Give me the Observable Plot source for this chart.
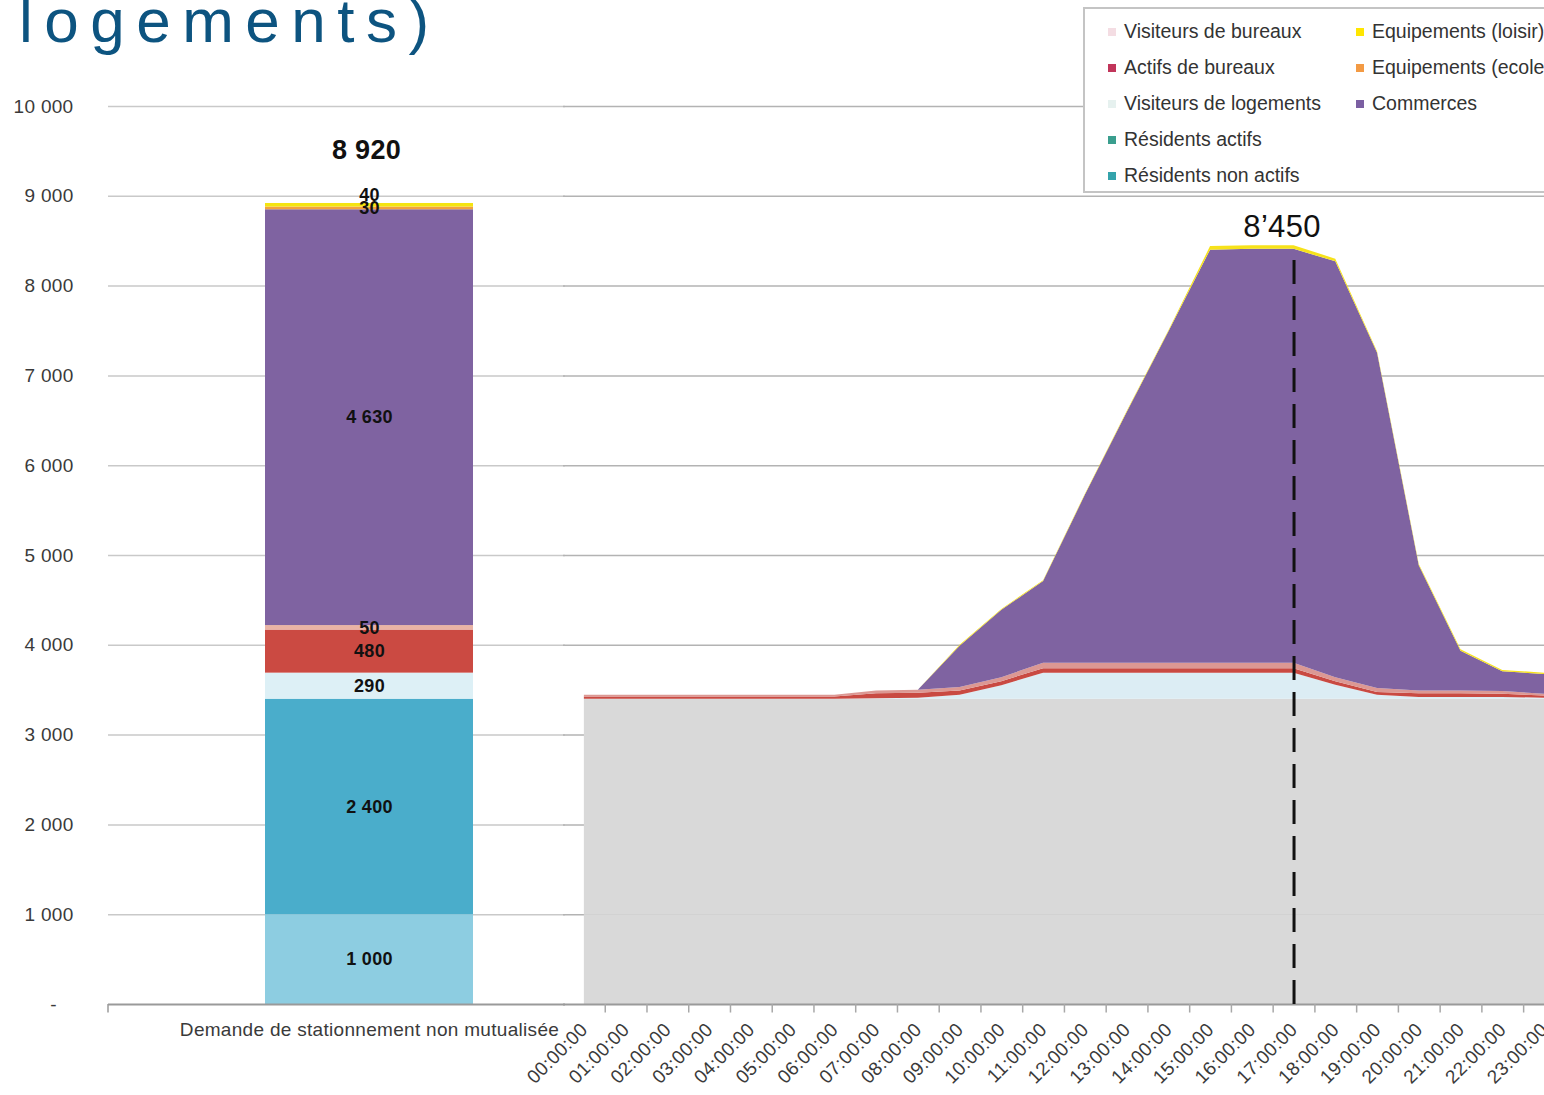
<!DOCTYPE html>
<html><head><meta charset="utf-8">
<script src="https://cdn.jsdelivr.net/npm/d3@7"></script>
<script src="https://cdn.jsdelivr.net/npm/@observablehq/plot@0.6"></script>
<style>
html,body{margin:0;padding:0;background:#fff;}
body{width:1544px;height:1095px;overflow:hidden;position:relative;font-family:"Liberation Sans",Arial,Helvetica,sans-serif;}
#title{position:absolute;left:19px;top:-10px;font-size:62px;letter-spacing:11.5px;color:#0d5480;line-height:62px;white-space:nowrap;}
#left,#right{position:absolute;left:0;top:0;}
#legend{position:absolute;left:1083px;top:7px;width:520px;height:182px;border:2px solid #c4c4c4;background:#fff;}
.li{position:absolute;font-size:19.5px;color:#333;white-space:nowrap;line-height:22px;}
.sw{display:inline-block;width:8px;height:8px;margin-right:8px;vertical-align:2px;}
</style>
</head><body>
<div id="title">logements)</div>
<div id="left"></div>
<div id="right"></div>
<div id="legend"></div>
<script>
// ---------- data ----------
const hours = ["00:00:00","01:00:00","02:00:00","03:00:00","04:00:00","05:00:00","06:00:00","07:00:00","08:00:00","09:00:00","10:00:00","11:00:00","12:00:00","13:00:00","14:00:00","15:00:00","16:00:00","17:00:00","18:00:00","19:00:00","20:00:00","21:00:00","22:00:00","23:00:00"];
const barCategory = "Demande de stationnement non mutualisée";
const barSeries = ["Résidents non actifs","Résidents actifs","Visiteurs de logements","Actifs de bureaux","Visiteurs de bureaux","Commerces","Equipements (ecole)","Equipements (loisir)"];
const barValues = [1000, 2400, 290, 480, 50, 4630, 30, 40];
const barTotal = 8920;

const residentsNonActifs = [1000,1000,1000,1000,1000,1000,1000,1000,1000,1000,1000,1000,1000,1000,1000,1000,1000,1000,1000,1000,1000,1000,1000,1000];
const residentsActifs    = [2400,2400,2400,2400,2400,2400,2400,2400,2400,2400,2400,2400,2400,2400,2400,2400,2400,2400,2400,2400,2400,2400,2400,2400];
const visiteursLogements = [0,0,0,0,0,0,0,5,10,45,150,290,290,290,290,290,290,290,155,45,20,20,20,10];
const actifsBureaux      = [25,25,25,25,25,25,25,55,55,45,45,50,50,50,50,50,50,50,40,30,40,40,35,25];
const visiteursBureaux   = [20,20,20,20,20,20,20,30,35,40,45,60,60,60,60,60,60,60,45,45,30,30,30,20];
const commerces          = [0,0,0,0,0,0,0,0,0,460,750,910,1870,2790,3690,4600,4610,4610,4630,3735,1395,445,220,220];
const equipEcole         = [0,0,0,0,0,0,0,0,0,0,0,0,0,0,0,0,0,0,0,0,0,0,0,0];
const equipLoisir        = [0,0,0,0,0,0,0,0,0,10,10,10,10,10,10,40,40,40,30,15,15,15,15,15];
const peakHour = 17;
const peakValue = 8450;
const peakLabel = "8’450";
const dashTop = 8340;

const legendItems = ["Visiteurs de bureaux","Actifs de bureaux","Visiteurs de logements","Résidents actifs","Résidents non actifs","Equipements (loisir)","Equipements (ecole)","Commerces"];
const legendColors = ["#f4dde3","#c1355a","#e6f1ef","#3a9e8e","#34a3ab","#ffe600","#f39a44","#7b5fa2"];

const yTicks = [0,1000,2000,3000,4000,5000,6000,7000,8000,9000,10000];

// ---------- styles ----------
const barColors = ["#8dcde1","#4aadcb","#ddf0f6","#cb4a42","#e9b3a5","#7f63a1","#f2a23c","#f4e410"];
const areaColors = ["#d9d9d9","#d9d9d9","#dcedf4","#c94a42","#dc9893","#7f63a1","#f2a23c","#f7e21a"];
const fmt = d => d3.format(",")(d).replace(/,/g, " ");
const H = 1095, MT = 106, MB = 91;

// ---------- left bar chart ----------
const barData = barSeries.map((s, i) => ({cat: barCategory, series: s, value: barValues[i]}));
let acc = 0;
const barLabels = barData.map(d => { const mid = acc + d.value / 2; acc += d.value; return {cat: d.cat, mid, text: fmt(d.value), series: d.series}; });
const mainLabels = barLabels.slice(0, barLabels.length - 1);
const topLabel = barLabels.slice(barLabels.length - 1);

const left = Plot.plot({
  width: 565, height: H, marginLeft: 108, marginRight: 0, marginTop: MT, marginBottom: MB,
  style: {fontFamily: '"Liberation Sans", Arial, sans-serif', color: "#3a3a3a", background: "transparent", letterSpacing: "0.3px"},
  x: {domain: [barCategory], range: [108, 631], padding: 0.429, label: null},
  y: {domain: [0, 10000], label: null},
  color: {domain: barSeries, range: barColors},
  marks: [
    Plot.ruleY(yTicks.slice(1), {stroke: "#c9c9c9", strokeWidth: 1.5}),
    Plot.barY(barData, {x: "cat", y: "value", fill: "series"}),
    Plot.ruleY([0], {stroke: "#9a9a9a", strokeWidth: 2}),
    Plot.ruleX([barCategory], {y1: 0, y2: -95, dx: 108 - 369.5, stroke: "#9a9a9a", strokeWidth: 1.5}),
    Plot.axisY({ticks: yTicks, tickFormat: d => d === 0 ? "-\u00a0\u00a0\u00a0" : fmt(d), tickSize: 0, tickPadding: 35, fontSize: 19, label: null}),
    Plot.axisX({tickSize: 0, tickPadding: 18, fontSize: 19, label: null}),
    Plot.text(mainLabels, {x: "cat", y: "mid", text: "text", fontSize: 18, fontWeight: "bold", fill: "#111"}),
    Plot.text(topLabel, {x: "cat", y: "mid", text: "text", fontSize: 18, fontWeight: "bold", fill: "#111", dy: -10}),
    Plot.text([{cat: barCategory, v: barTotal}], {x: "cat", y: "v", text: d => fmt(d.v), fontSize: 27, fontWeight: "bold", fill: "#111", dy: -53, dx: -3})
  ]
});
document.getElementById("left").append(left);

// ---------- right area chart ----------
const areaSeries = barSeries;
const areaArrays = [residentsNonActifs, residentsActifs, visiteursLogements, actifsBureaux, visiteursBureaux, commerces, equipEcole, equipLoisir];
const areaData = [];
areaSeries.forEach((s, i) => hours.forEach((h, j) => areaData.push({h: j, label: h, series: s, value: areaArrays[i][j]})));
const hourIdx = hours.map((h, i) => i);
const boundaries = hours.slice(1).map((h, i) => i + 0.5);

const right = Plot.plot({
  width: 1544, height: H, marginLeft: 563, marginRight: 0, marginTop: MT, marginBottom: MB,
  style: {fontFamily: '"Liberation Sans", Arial, sans-serif', color: "#3a3a3a", background: "transparent", letterSpacing: "0.3px"},
  x: {type: "linear", domain: [-0.5, 23], label: null},
  y: {domain: [0, 10000], label: null, axis: null},
  color: {domain: areaSeries, range: areaColors},
  marks: [
    Plot.ruleY(yTicks.slice(1), {stroke: "#b3b3b3", strokeWidth: 1.5}),
    Plot.areaY(areaData, {x: "h", y: "value", fill: "series", z: "series"}),
    Plot.ruleY([0], {stroke: "#9a9a9a", strokeWidth: 2}),
    Plot.ruleX(boundaries, {y1: 0, y2: -95, stroke: "#a8a8a8", strokeWidth: 1.5}),
    Plot.axisX({ticks: hourIdx, tickFormat: i => hours[i], tickRotate: -45, tickSize: 0, tickPadding: 22, fontSize: 19, label: null}),
    Plot.ruleX([peakHour], {y1: 0, y2: dashTop, stroke: "#111", strokeWidth: 3, strokeDasharray: "24,12"}),
    Plot.text([{h: peakHour, v: peakValue}], {x: "h", y: "v", text: () => peakLabel, fontSize: 31, fill: "#111", dx: -12, dy: -19})
  ]
});
document.getElementById("right").append(right);

// ---------- legend ----------
const leg = document.getElementById("legend");
const rowsY = [31, 67, 103, 139, 175];
legendItems.forEach((name, i) => {
  const col = i < 5 ? 0 : 1;
  const row = col === 0 ? i : i - 5;
  const el = document.createElement("div");
  el.className = "li";
  el.style.left = (col === 0 ? 1108 : 1356) - 1085 + "px";
  el.style.top = rowsY[row] - 9 - 11 + "px";
  const sw = document.createElement("span");
  sw.className = "sw";
  sw.style.background = legendColors[i];
  el.append(sw, document.createTextNode(name));
  leg.append(el);
});
</script>
</body></html>
